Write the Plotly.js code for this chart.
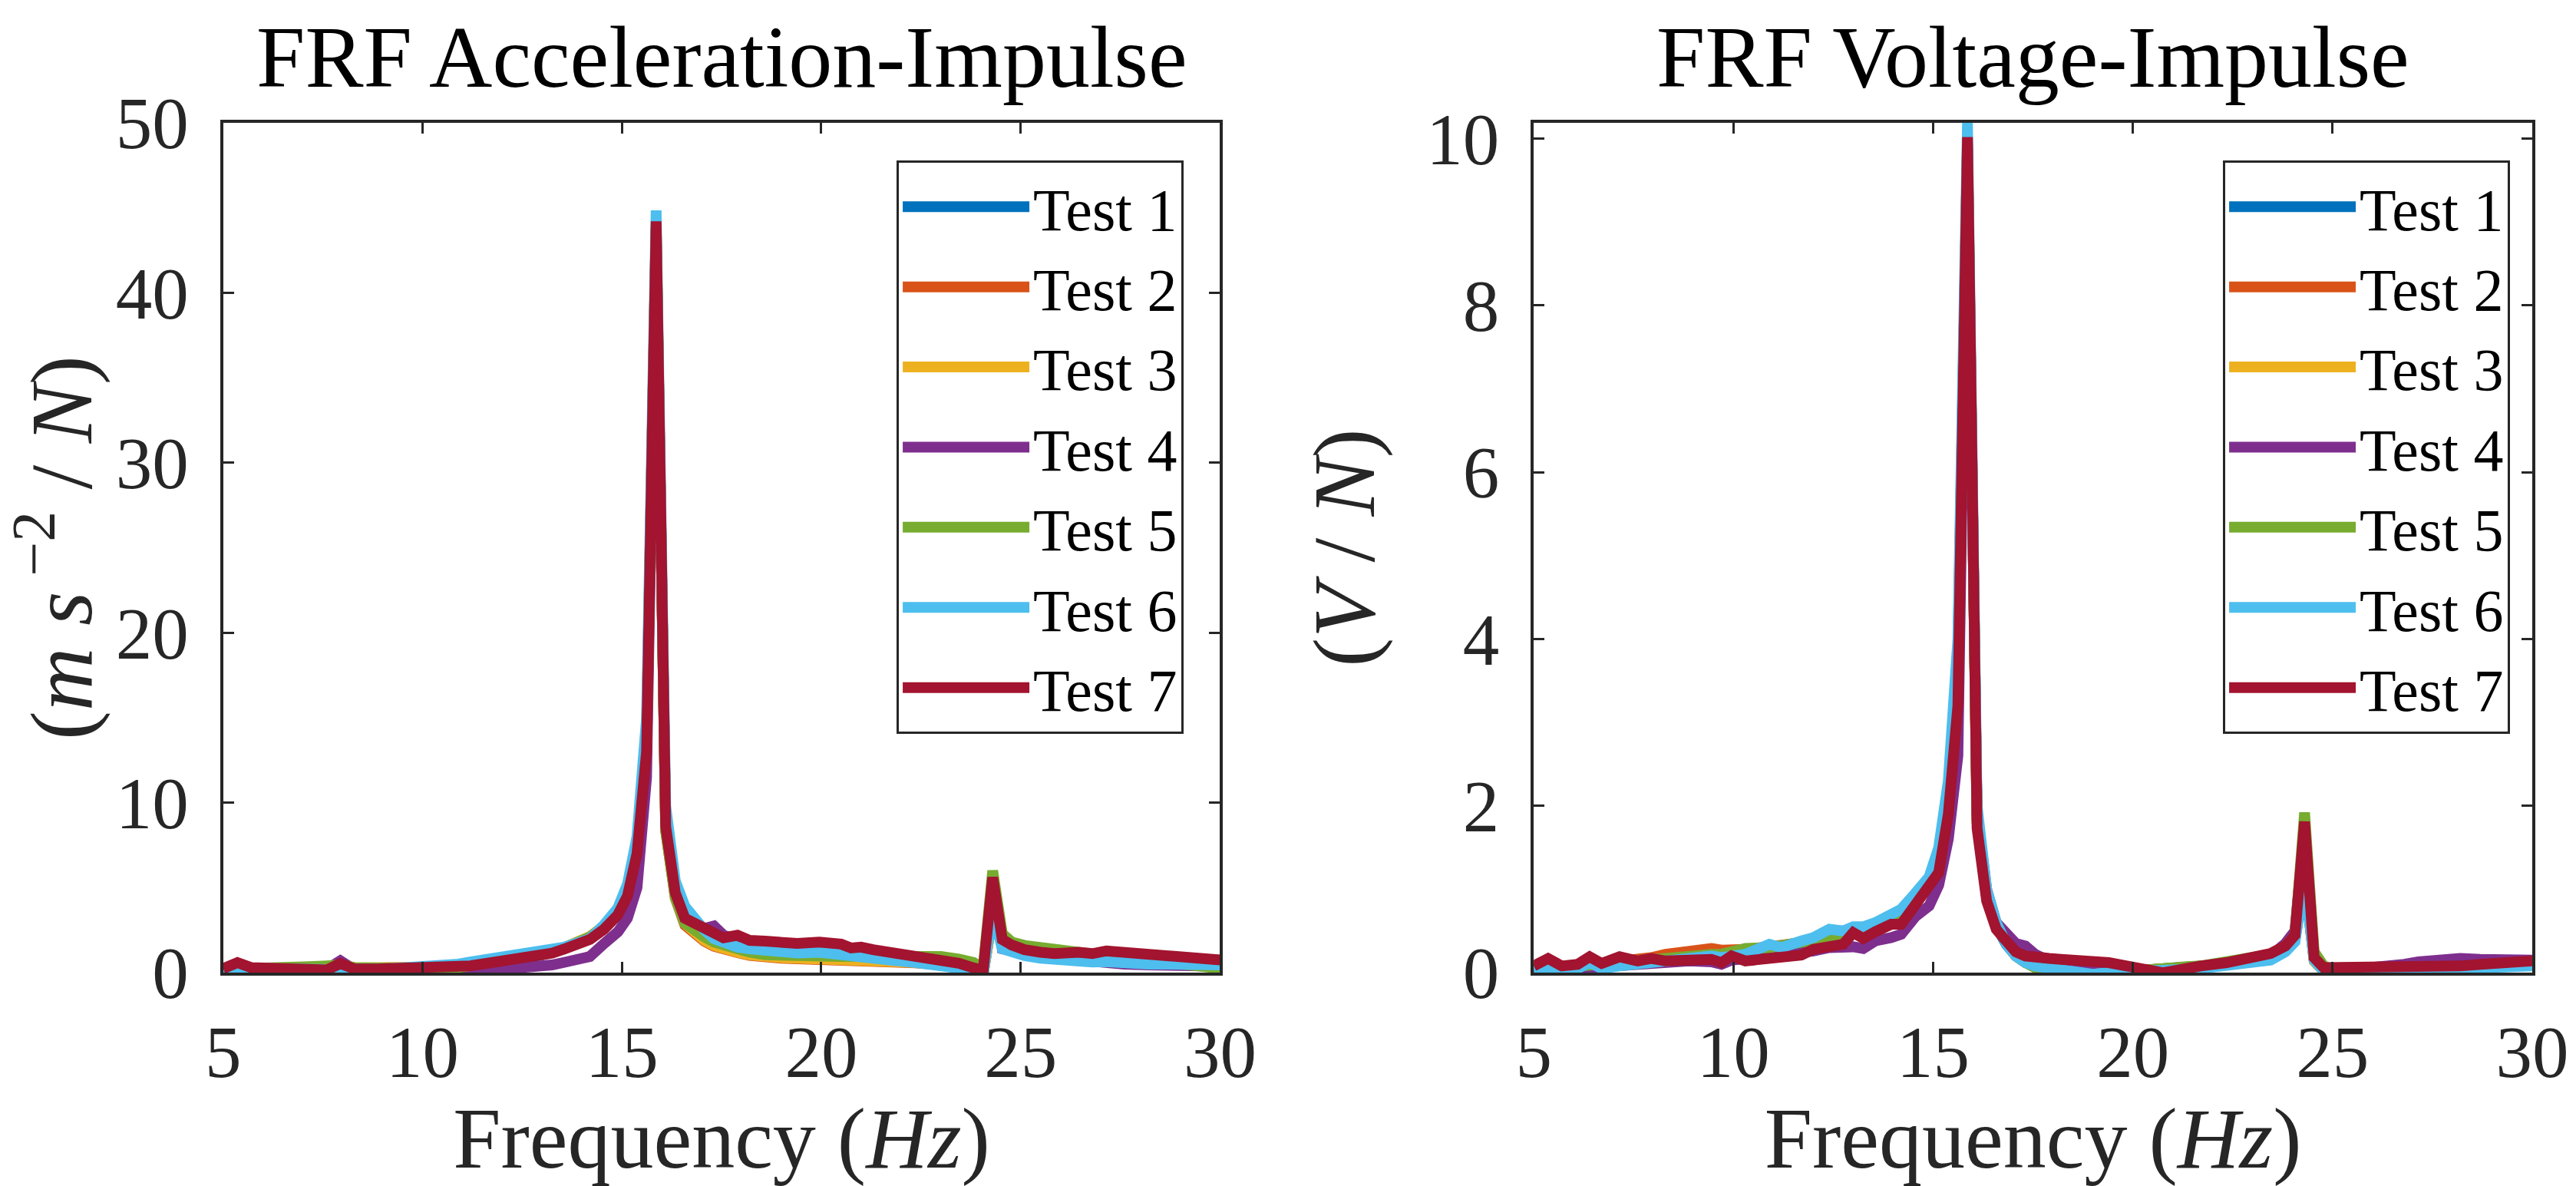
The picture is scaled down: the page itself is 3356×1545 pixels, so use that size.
<!DOCTYPE html>
<html>
<head>
<meta charset="utf-8">
<script src="https://cdn.plot.ly/plotly-3.0.1.min.js"></script>
<style>
  html, body { margin: 0; padding: 0; background: #ffffff; }
  #chart { width: 3356px; height: 1545px; }
</style>
</head>
<body>
<div id="chart"></div>
<script>
// frequency grid (Hz)
const freq = [5.00, 5.36, 5.70, 6.10, 6.40, 6.70, 7.15, 7.60, 7.94, 8.30,
  8.90, 9.45, 9.70, 9.95, 10.30, 10.90, 11.20, 11.70, 12.00, 12.40,
  12.75, 13.00, 13.25, 13.55, 13.95, 14.20, 14.55, 14.90, 15.14, 15.38,
  15.62, 15.86, 16.10, 16.34, 16.58, 16.83, 17.07, 17.31, 17.55, 17.90,
  18.20, 18.60, 19.00, 19.40, 19.95, 20.50, 20.75, 21.00, 21.30, 21.70,
  22.35, 23.00, 23.45, 23.82, 24.06, 24.30, 24.54, 24.78, 25.10, 25.50,
  25.85, 26.45, 26.80, 27.15, 27.60, 28.20, 28.70, 29.20, 29.60, 30.00];

// FRF acceleration / impulse (m s^-2 / N)
const accTest1 = [0.18, 0.22, 0.20, 0.20, 0.20, 0.20, 0.20, 0.20, 0.20, 0.15,
  0.15, 0.15, 0.15, 0.18, 0.20, 0.30, 0.38, 0.52, 0.65, 0.80,
  0.95, 1.05, 1.15, 1.40, 1.80, 2.05, 2.65, 3.55, 4.70, 7.20,
  13.8, 43.8, 8.5, 4.5, 2.9, 2.3, 1.9, 1.6, 1.40, 1.25,
  1.10, 0.95, 0.90, 0.87, 0.85, 0.82, 0.80, 0.78, 0.75, 0.70,
  0.62, 0.50, 0.35, 0.12, -0.10, 3.5, 2.0, 1.6, 1.45, 1.30,
  1.20, 1.05, 0.95, 0.85, 0.75, 0.65, 0.58, 0.50, 0.48, 0.45];
const accTest2 = [0.20, 0.25, 0.22, 0.22, 0.22, 0.22, 0.22, 0.22, 0.25, 0.18,
  0.17, 0.17, 0.17, 0.20, 0.22, 0.32, 0.40, 0.55, 0.68, 0.82,
  0.97, 1.08, 1.18, 1.42, 1.85, 2.10, 2.70, 3.60, 4.80, 7.40,
  14.0, 43.6, 8.4, 4.4, 2.8, 2.2, 1.85, 1.55, 1.35, 1.18,
  1.02, 0.90, 0.85, 0.82, 0.80, 0.78, 0.76, 0.74, 0.70, 0.66,
  0.58, 0.46, 0.32, 0.10, -0.05, 3.4, 1.9, 1.5, 1.40, 1.25,
  1.15, 1.00, 0.90, 0.80, 0.70, 0.62, 0.55, 0.48, 0.45, 0.42];
const accTest3 = [0.22, 0.28, 0.25, 0.25, 0.25, 0.25, 0.25, 0.25, 0.28, 0.22,
  0.20, 0.20, 0.20, 0.22, 0.25, 0.33, 0.42, 0.56, 0.70, 0.85,
  1.00, 1.10, 1.20, 1.45, 1.88, 2.12, 2.75, 3.65, 4.85, 7.50,
  14.2, 43.9, 8.4, 4.5, 2.9, 2.3, 1.9, 1.6, 1.38, 1.20,
  1.05, 0.92, 0.88, 0.85, 0.83, 0.80, 0.78, 0.76, 0.72, 0.68,
  0.60, 0.48, 0.34, 0.12, -0.05, 3.3, 1.9, 1.55, 1.40, 1.25,
  1.15, 1.05, 0.92, 0.82, 0.72, 0.62, 0.55, 0.50, 0.46, 0.43];
const accTest4 = [0.10, 0.15, 0.12, 0.12, 0.12, 0.12, 0.12, 0.20, 0.70, 0.15,
  0.10, 0.05, 0.02, 0.00, 0.00, 0.02, 0.05, 0.12, 0.18, 0.30,
  0.35, 0.40, 0.45, 0.60, 0.85, 0.95, 1.70, 2.40, 3.20, 5.00,
  11.5, 43.5, 8.8, 5.0, 3.5, 2.9, 2.6, 2.75, 2.2, 1.9,
  1.75, 1.60, 1.40, 1.30, 1.30, 1.20, 1.10, 1.05, 0.95, 0.85,
  0.70, 0.55, 0.45, 0.25, 0.05, 5.3, 1.40, 1.20, 1.10, 0.95,
  0.85, 0.75, 0.70, 0.60, 0.50, 0.45, 0.42, 0.40, 0.38, 0.38];
const accTest5 = [0.20, 0.25, 0.30, 0.30, 0.30, 0.30, 0.35, 0.40, 0.45, 0.30,
  0.25, 0.20, 0.20, 0.20, 0.22, 0.30, 0.40, 0.55, 0.70, 0.85,
  1.00, 1.10, 1.20, 1.45, 1.85, 2.10, 2.70, 3.60, 4.80, 7.30,
  13.5, 44.0, 8.3, 4.4, 2.9, 2.4, 2.1, 1.8, 1.6, 1.4,
  1.2, 1.05, 1.0, 0.95, 0.95, 0.95, 0.95, 0.95, 0.95, 0.95,
  0.98, 0.95, 0.80, 0.60, 0.25, 6.0, 2.3, 1.8, 1.6, 1.45,
  1.35, 1.20, 1.10, 1.00, 0.90, 0.75, 0.60, 0.45, 0.35, 0.25];
const accTest6 = [0.15, 0.30, 0.25, 0.25, 0.22, 0.20, 0.20, 0.18, -0.05, 0.20,
  0.20, 0.25, 0.28, 0.30, 0.35, 0.50, 0.63, 0.80, 0.90, 1.10,
  1.20, 1.25, 1.30, 1.50, 1.80, 2.00, 2.80, 3.80, 5.20, 8.00,
  15.0, 44.85, 9.8, 5.4, 3.9, 3.1, 2.5, 2.0, 1.75, 1.50,
  1.40, 1.30, 1.20, 1.15, 1.20, 1.10, 1.00, 0.95, 0.90, 0.75,
  0.60, 0.45, 0.35, 0.15, -0.08, 3.6, 1.40, 1.20, 1.00, 0.85,
  0.75, 0.68, 0.62, 0.65, 0.55, 0.50, 0.50, 0.47, 0.45, 0.45];
const accTest7 = [0.24, 0.59, 0.30, 0.28, 0.26, 0.25, 0.22, 0.16, 0.54, 0.22,
  0.22, 0.24, 0.22, 0.25, 0.26, 0.33, 0.40, 0.58, 0.66, 0.82,
  0.90, 1.05, 1.15, 1.38, 1.80, 1.95, 2.55, 3.40, 4.50, 7.00,
  13.0, 44.2, 8.6, 4.7, 3.2, 2.9, 2.55, 2.2, 2.05, 2.2,
  1.9, 1.85, 1.78, 1.72, 1.80, 1.68, 1.45, 1.50, 1.35, 1.22,
  0.98, 0.70, 0.55, 0.28, 0.12, 5.6, 1.95, 1.62, 1.35, 1.20,
  1.12, 1.20, 1.12, 1.28, 1.20, 1.12, 1.05, 0.92, 0.85, 0.75];

// FRF voltage / impulse (V / N)
const voltTest1 = [0.04, 0.07, 0.05, 0.07, 0.10, 0.09, 0.12, 0.13, 0.15, 0.16,
  0.19, 0.21, 0.20, 0.22, 0.25, 0.30, 0.30, 0.35, 0.38, 0.44,
  0.46, 0.50, 0.50, 0.56, 0.66, 0.72, 0.92, 1.12, 1.45, 2.20,
  3.80, 9.90, 1.85, 0.92, 0.56, 0.34, 0.20, 0.12, 0.07, 0.03,
  0.01, -0.01, -0.01, 0.00, 0.02, 0.03, 0.04, 0.05, 0.06, 0.07,
  0.10, 0.15, 0.18, 0.28, 0.40, 1.12, 0.14, 0.02, -0.01, -0.01,
  0.00, 0.02, 0.03, 0.04, 0.05, 0.06, 0.07, 0.08, 0.09, 0.10];
const voltTest2 = [0.05, 0.08, 0.06, 0.08, 0.11, 0.10, 0.14, 0.15, 0.18, 0.22,
  0.26, 0.29, 0.27, 0.27, 0.28, 0.31, 0.32, 0.36, 0.40, 0.45,
  0.47, 0.51, 0.51, 0.57, 0.67, 0.73, 0.93, 1.13, 1.45, 2.20,
  3.70, 9.92, 1.82, 0.90, 0.55, 0.34, 0.20, 0.12, 0.07, 0.03,
  0.01, -0.01, -0.01, 0.00, 0.02, 0.03, 0.04, 0.05, 0.06, 0.07,
  0.10, 0.15, 0.19, 0.29, 0.41, 1.18, 0.15, 0.03, 0.00, -0.01,
  0.00, 0.02, 0.03, 0.04, 0.05, 0.06, 0.07, 0.08, 0.09, 0.10];
const voltTest3 = [0.04, 0.06, 0.04, 0.06, 0.09, 0.08, 0.11, 0.12, 0.14, 0.15,
  0.18, 0.20, 0.19, 0.21, 0.24, 0.29, 0.29, 0.34, 0.37, 0.43,
  0.45, 0.49, 0.49, 0.55, 0.65, 0.70, 0.90, 1.10, 1.42, 2.15,
  3.60, 9.88, 1.80, 0.90, 0.55, 0.34, 0.20, 0.12, 0.07, 0.03,
  0.01, -0.01, -0.01, 0.00, 0.02, 0.03, 0.04, 0.05, 0.06, 0.07,
  0.10, 0.15, 0.18, 0.28, 0.40, 1.20, 0.14, 0.02, -0.01, -0.01,
  0.00, 0.02, 0.03, 0.04, 0.05, 0.06, 0.07, 0.08, 0.09, 0.10];
const voltTest4 = [0.03, 0.02, 0.04, 0.05, 0.06, 0.07, 0.10, 0.10, 0.12, 0.12,
  0.14, 0.13, 0.10, 0.15, 0.17, 0.18, 0.20, 0.22, 0.26, 0.30,
  0.31, 0.31, 0.29, 0.38, 0.42, 0.46, 0.67, 0.80, 1.05, 1.60,
  2.60, 9.80, 1.90, 1.00, 0.60, 0.45, 0.35, 0.32, 0.22, 0.14,
  0.10, 0.06, 0.04, 0.03, 0.03, 0.03, 0.03, 0.04, 0.05, 0.07,
  0.10, 0.15, 0.20, 0.35, 0.50, 1.75, 0.20, 0.05, 0.03, 0.04,
  0.05, 0.07, 0.10, 0.13, 0.15, 0.17, 0.16, 0.15, 0.15, 0.15];
const voltTest5 = [0.05, 0.08, 0.06, 0.08, 0.10, 0.10, 0.12, 0.14, 0.15, 0.17,
  0.20, 0.22, 0.22, 0.24, 0.29, 0.30, 0.32, 0.35, 0.38, 0.42,
  0.45, 0.50, 0.50, 0.55, 0.65, 0.70, 0.90, 1.10, 1.40, 2.10,
  3.60, 9.95, 1.80, 0.90, 0.55, 0.35, 0.20, 0.12, 0.06, 0.02,
  0.00, -0.02, -0.02, 0.00, 0.02, 0.04, 0.05, 0.06, 0.07, 0.08,
  0.12, 0.17, 0.22, 0.32, 0.45, 1.92, 0.25, 0.08, 0.02, 0.00,
  0.00, 0.01, 0.02, 0.03, 0.04, 0.05, 0.06, 0.07, 0.08, 0.10];
const voltTest6 = [0.03, 0.06, 0.02, 0.05, 0.12, 0.05, 0.08, 0.10, 0.12, 0.14,
  0.18, 0.20, 0.18, 0.20, 0.22, 0.34, 0.30, 0.38, 0.42, 0.52,
  0.50, 0.55, 0.55, 0.60, 0.71, 0.76, 0.95, 1.15, 1.50, 2.30,
  4.00, 10.19, 2.00, 1.00, 0.60, 0.35, 0.20, 0.12, 0.08, 0.05,
  0.03, 0.00, -0.02, 0.00, 0.02, 0.02, 0.02, 0.03, 0.04, 0.05,
  0.08, 0.12, 0.15, 0.25, 0.37, 1.15, 0.15, 0.02, -0.03, -0.02,
  0.00, 0.02, 0.03, 0.03, 0.04, 0.05, 0.06, 0.07, 0.07, 0.08];
const voltTest7 = [0.08, 0.17, 0.08, 0.10, 0.19, 0.11, 0.19, 0.14, 0.17, 0.14,
  0.15, 0.16, 0.12, 0.20, 0.14, 0.16, 0.17, 0.21, 0.28, 0.31,
  0.34, 0.48, 0.41, 0.49, 0.58, 0.58, 0.80, 1.00, 1.20, 1.90,
  3.20, 10.02, 1.73, 0.86, 0.52, 0.38, 0.25, 0.20, 0.18, 0.17,
  0.16, 0.15, 0.14, 0.12, 0.07, 0.02, 0.00, 0.02, 0.05, 0.08,
  0.12, 0.18, 0.23, 0.32, 0.45, 1.81, 0.18, 0.06, 0.06, 0.06,
  0.06, 0.06, 0.06, 0.07, 0.07, 0.08, 0.10, 0.11, 0.12, 0.14];

const testNames = ['Test 1', 'Test 2', 'Test 3', 'Test 4', 'Test 5', 'Test 6', 'Test 7'];
const testColors = ['#0072BD', '#D95319', '#EDB120', '#7E2F8E', '#77AC30', '#4DBEEE', '#A2142F'];
const accSeries = [accTest1, accTest2, accTest3, accTest4, accTest5, accTest6, accTest7];
const voltSeries = [voltTest1, voltTest2, voltTest3, voltTest4, voltTest5, voltTest6, voltTest7];

const FONT = 'Liberation Serif, Times New Roman, serif';
const INK = '#262626';
const LINE_W = 14;

const traces = [];
accSeries.forEach((ys, i) => {
    traces.push({
        x: freq, y: ys, type: 'scatter', mode: 'lines',
        name: testNames[i], xaxis: 'x', yaxis: 'y', legend: 'legend',
        line: { color: testColors[i], width: LINE_W }
    });
});
voltSeries.forEach((ys, i) => {
    traces.push({
        x: freq, y: ys, type: 'scatter', mode: 'lines',
        name: testNames[i], xaxis: 'x2', yaxis: 'y2', legend: 'legend2',
        line: { color: testColors[i], width: LINE_W }
    });
});

function xAxis(domain, anchor) {
    return {
        domain: domain, anchor: anchor, range: [5, 30], tick0: 5, dtick: 5,
        ticks: 'inside', ticklen: 14, tickwidth: 3, tickcolor: INK,
        showline: true, linecolor: INK, linewidth: 4, mirror: 'allticks',
        showgrid: false, zeroline: false, ticklabelstandoff: 18,
        tickfont: { family: FONT, size: 95, color: INK },
        title: { text: 'Frequency (<i>Hz</i>)', font: { family: FONT, size: 112, color: INK }, standoff: 36 }
    };
}
function yAxis(domain, anchor, range, dtick, label) {
    return {
        domain: domain, anchor: anchor, range: range, tick0: 0, dtick: dtick,
        ticks: 'inside', ticklen: 14, tickwidth: 3, tickcolor: INK,
        showline: true, linecolor: INK, linewidth: 4, mirror: 'allticks',
        showgrid: false, zeroline: false, ticklabelstandoff: 22,
        tickfont: { family: FONT, size: 95, color: INK },
        title: { text: label, font: { family: FONT, size: 114, color: INK }, standoff: 30 }
    };
}
function legendBox(xRight) {
    return {
        x: xRight, xanchor: 'right', y: 0.8647, yanchor: 'top',
        bgcolor: '#ffffff', bordercolor: INK, borderwidth: 3,
        font: { family: FONT, size: 78, color: '#000000' },
        itemwidth: 165, tracegroupgap: 0
    };
}

const layout = {
    width: 3356, height: 1545,
    paper_bgcolor: '#ffffff', plot_bgcolor: '#ffffff',
    margin: { l: 0, r: 0, t: 0, b: 0 },
    showlegend: true,
    xaxis: xAxis([0.0866, 0.4736], 'y'),
    yaxis: yAxis([0.1799, 0.8964], 'x', [0, 50], 10, '(<i>m s</i><sup> −2</sup> / <i>N</i>)'),
    xaxis2: xAxis([0.5954, 0.9830], 'y2'),
    yaxis2: yAxis([0.1799, 0.8964], 'x2', [0, 10.19], 2, '(<i>V</i> / <i>N</i>)'),
    legend: legendBox(0.4595),
    legend2: legendBox(0.9744),
    annotations: [
        { text: 'FRF Acceleration-Impulse', xref: 'paper', yref: 'paper', x: 0.2801, y: 0.952,
          xanchor: 'center', yanchor: 'middle', showarrow: false,
          font: { family: FONT, size: 114, color: '#000000' } },
        { text: 'FRF Voltage-Impulse', xref: 'paper', yref: 'paper', x: 0.7892, y: 0.952,
          xanchor: 'center', yanchor: 'middle', showarrow: false,
          font: { family: FONT, size: 114, color: '#000000' } }
    ]
};

Plotly.newPlot('chart', traces, layout, { displayModeBar: false, staticPlot: true }).then(gd => {
    // legend samples are drawn thinner than the traces; match them to the plot lines
    gd.querySelectorAll('.legendlines path').forEach(p => {
        p.style.strokeWidth = LINE_W + 'px';
    });
});
</script>
</body>
</html>
